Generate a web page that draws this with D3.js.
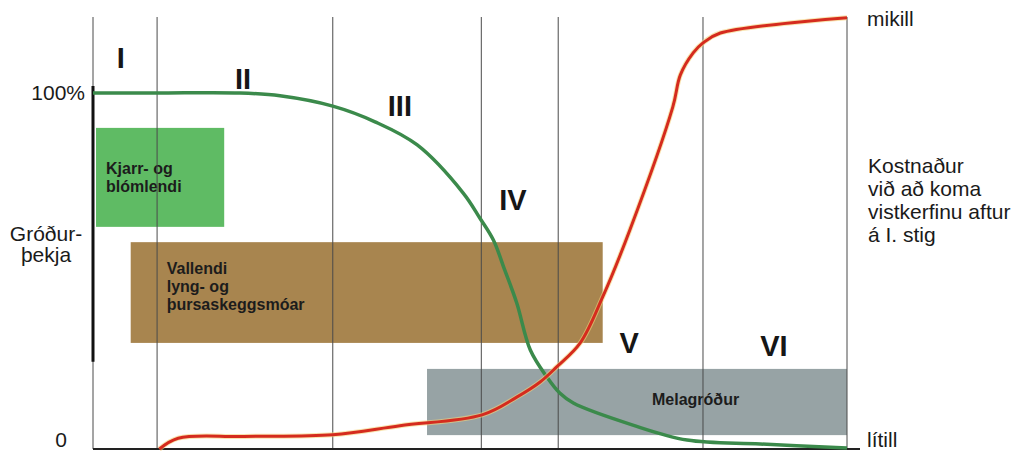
<!DOCTYPE html>
<html>
<head>
<meta charset="utf-8">
<script src="https://cdn.jsdelivr.net/npm/d3@7/dist/d3.min.js"></script>
<style>
  body { margin: 0; background: #fff; }
  text { font-family: "Liberation Sans", Arial, sans-serif; }
</style>
</head>
<body>
<div class="chart"></div>
<script>
// Data (x = succession progress 0-100, cover in %, cost 0-100)
//= ================================
var stageNames = ["I", "II", "III", "IV", "V", "VI"];
var stageBounds = [0, 8.5, 31.8, 51.5, 61.7, 80.9, 100];
var stageLabelX = [3.7, 19.9, 40.7, 55.7, 71.1, 90.3];
var stageLabelY = [107, 101, 93.5, 67, 27, 26];

var coverX = [0, 8.5, 19.5, 24.8, 31.8, 37.4, 43.0, 49.1, 51.3, 53.1, 54.6, 56.2, 58.0, 60.2, 61.9, 63.7, 71.6, 78.8, 88.5, 100];
var coverY = [100, 100, 100, 99.2, 96.3, 91.9, 85.4, 71.9, 64.9, 58.7, 50.3, 41.0, 27.8, 20.2, 15.7, 12.9, 6.7, 2.5, 1.4, 0.3];

var costX = [8.8, 11.3, 20.0, 31.8, 40.7, 51.6, 56.2, 59.3, 61.5, 64.6, 67.6, 71.2, 76.9, 77.9, 79.6, 80.9, 83.2, 100];
var costY = [0, 2.5, 2.9, 3.3, 5.4, 7.9, 12.0, 15.5, 19.0, 24.5, 35.2, 50.7, 79.2, 86.6, 91.7, 94.0, 96.3, 99.8];

var zoneNames = [["Kjarr- og", "blómlendi"], ["Vallendi", "lyng- og", "þursaskeggsmóar"], ["Melagróður"]];
var zoneX0 = [0.4, 5.0, 44.3];
var zoneX1 = [17.4, 67.6, 100];
var zoneTop = [90.2, 58.1, 22.5];
var zoneBottom = [62.4, 29.8, 3.9];

var coverTicks = [0, 100];
var coverTickLabels = ["0", "100%"];
var costTicks = [0, 100];
var costTickLabels = ["lítill", "mikill"];
var coverTitle = ["Gróður-", "þekja"];
var costTitle = ["Kostnaður", "við að koma", "vistkerfinu aftur", "á I. stig"];

// Chart setup
//= ================================
var svgWidth = 1023;
var svgHeight = 451;
var margin = { top: 17, right: 176, bottom: 2, left: 93 };
var width = svgWidth - margin.left - margin.right;
var height = svgHeight - margin.top - margin.bottom;

var zoneColors = ["#5fbb64", "#a8854f", "#97a3a5"];
var zoneTextDx = [10, 36, 225];
var zoneTextDy = [46, 32, 36];

var svg = d3.select(".chart")
  .append("svg")
  .attr("width", svgWidth)
  .attr("height", svgHeight);

var chart = svg.append("g")
  .attr("transform", "translate(" + margin.left + "," + margin.top + ")");

var x = d3.scaleLinear().domain([0, 100]).range([0, width]);
var yCover = d3.scaleLinear().domain([0, 100]).range([height, 76]);
var yCost = d3.scaleLinear().domain([0, 100]).range([height, 0]);

// vegetation zones
var zones = chart.selectAll(".zone")
  .data(zoneNames)
  .enter()
  .append("g")
  .attr("class", "zone");

zones.append("rect")
  .attr("x", function(d, i) { return x(zoneX0[i]); })
  .attr("y", function(d, i) { return yCover(zoneTop[i]); })
  .attr("width", function(d, i) { return x(zoneX1[i]) - x(zoneX0[i]); })
  .attr("height", function(d, i) { return yCover(zoneBottom[i]) - yCover(zoneTop[i]); })
  .attr("fill", function(d, i) { return zoneColors[i]; });

zones.append("text")
  .attr("font-size", 16)
  .attr("font-weight", "bold")
  .attr("fill", "#1c1c1c")
  .each(function(d, i) {
    var t = d3.select(this);
    d.forEach(function(line, j) {
      t.append("tspan")
        .attr("x", x(zoneX0[i]) + zoneTextDx[i])
        .attr("y", yCover(zoneTop[i]) + zoneTextDy[i] + j * 18)
        .text(line);
    });
  });

// stage boundaries
chart.selectAll(".stage-line")
  .data(stageBounds)
  .enter()
  .append("line")
  .attr("class", "stage-line")
  .attr("x1", function(d) { return x(d); })
  .attr("x2", function(d) { return x(d); })
  .attr("y1", 0)
  .attr("y2", height)
  .attr("stroke", "#4a4a4a")
  .attr("stroke-width", 1);

// thick part of left axis
chart.append("line")
  .attr("x1", 0).attr("x2", 0)
  .attr("y1", yCover(102)).attr("y2", yCover(24.5))
  .attr("stroke", "#111")
  .attr("stroke-width", 3);

// baseline
chart.append("line")
  .attr("x1", 0).attr("x2", width + 13)
  .attr("y1", height).attr("y2", height)
  .attr("stroke", "#222")
  .attr("stroke-width", 2);

// cover curve
var coverLine = d3.line()
  .x(function(d, i) { return x(coverX[i]); })
  .y(function(d) { return yCover(d); })
  .curve(d3.curveCatmullRom.alpha(0.5));

chart.append("path")
  .attr("d", coverLine(coverY))
  .attr("fill", "none")
  .attr("stroke", "#3b8a4b")
  .attr("stroke-width", 3.5);

// cost curve
var costLine = d3.line()
  .x(function(d, i) { return x(costX[i]); })
  .y(function(d) { return yCost(d); })
  .curve(d3.curveCatmullRom.alpha(0.5));

chart.append("path")
  .attr("d", costLine(costY))
  .attr("fill", "none")
  .attr("stroke", "#f3d27a")
  .attr("stroke-width", 5)
  .attr("opacity", 0.6);

chart.append("path")
  .attr("d", costLine(costY))
  .attr("fill", "none")
  .attr("stroke", "#d52b1e")
  .attr("stroke-width", 3);

// stage numerals
chart.selectAll(".stage-label")
  .data(stageNames)
  .enter()
  .append("text")
  .attr("class", "stage-label")
  .attr("x", function(d, i) { return x(stageLabelX[i]); })
  .attr("y", function(d, i) { return yCover(stageLabelY[i]); })
  .attr("text-anchor", "middle")
  .attr("font-size", 29)
  .attr("font-weight", "bold")
  .attr("fill", "#161616")
  .text(function(d) { return d; });

// left axis ticks
var leftAxis = d3.axisLeft(yCover)
  .tickValues(coverTicks)
  .tickSize(0)
  .tickPadding(8)
  .tickFormat(function(d, i) { return coverTickLabels[i]; });

var gLeft = chart.append("g").call(leftAxis);
gLeft.select(".domain").remove();
gLeft.selectAll("text")
  .attr("font-size", 21)
  .attr("font-family", "Liberation Sans, Arial, sans-serif")
  .attr("fill", "#1a1a1a")
  .attr("dy", function(d) { return d === 0 ? "-0.1em" : "0.32em"; })
  .attr("x", function(d) { return d === 0 ? -26 : -8; });

// right axis ticks
var rightAxis = d3.axisRight(yCost)
  .tickValues(costTicks)
  .tickSize(0)
  .tickPadding(20)
  .tickFormat(function(d, i) { return costTickLabels[i]; });

var gRight = chart.append("g")
  .attr("transform", "translate(" + width + ",0)")
  .call(rightAxis);
gRight.select(".domain").remove();
gRight.selectAll("text")
  .attr("font-size", 21)
  .attr("font-family", "Liberation Sans, Arial, sans-serif")
  .attr("fill", "#1a1a1a")
  .attr("dy", function(d) { return d === 0 ? "-0.1em" : "0.42em"; });

// axis titles
var leftTitle = svg.append("text")
  .attr("text-anchor", "middle")
  .attr("font-size", 21)
  .attr("fill", "#1a1a1a");
coverTitle.forEach(function(line, j) {
  leftTitle.append("tspan").attr("x", 46).attr("y", 241 + j * 21).text(line);
});

var rightTitle = svg.append("text")
  .attr("font-size", 21)
  .attr("fill", "#1a1a1a");
costTitle.forEach(function(line, j) {
  rightTitle.append("tspan").attr("x", margin.left + width + 21).attr("y", 173 + j * 23).text(line);
});
</script>
</body>
</html>
